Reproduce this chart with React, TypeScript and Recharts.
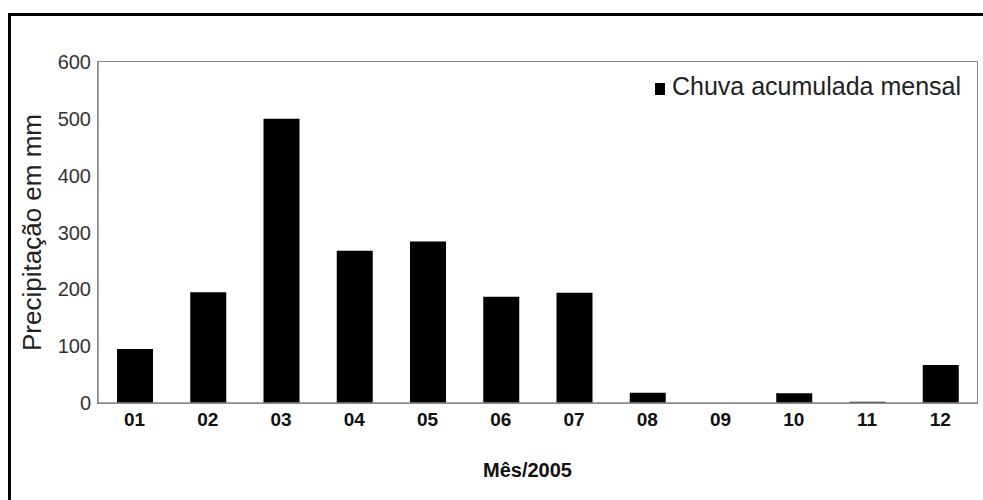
import React from "react";
import { BarChart, Bar, XAxis, YAxis, Label } from "recharts";

const months = ["01", "02", "03", "04", "05", "06", "07", "08", "09", "10", "11", "12"];
const rainfall = [95, 195, 500, 268, 284, 187, 194, 18, 0, 17, 2, 67];
const yTicks = [0, 100, 200, 300, 400, 500, 600];
const seriesName = "Chuva acumulada mensal";
const yTitle = "Precipitação em mm";
const xTitle = "Mês/2005";

const data = months.map((m, i) => ({ m, v: rainfall[i] }));

const FONT = "'Liberation Sans', Arial, sans-serif";
const AXIS = "#8a8a8a";

const YTitle = (props: any) => {
  const vb = props.viewBox || {};
  const x = vb.x + 32;
  const y = vb.y + vb.height / 2;
  return (
    <text
      x={x}
      y={y}
      transform={`rotate(-90 ${x} ${y})`}
      textAnchor="middle"
      dominantBaseline="central"
      fontFamily={FONT}
      fontSize={26}
      fill="#222"
    >
      {yTitle}
    </text>
  );
};

const XTitle = (props: any) => {
  const vb = props.viewBox || {};
  const x = vb.x + vb.width / 2 - 10;
  const y = vb.y + 74;
  return (
    <text x={x} y={y} textAnchor="middle" fontFamily={FONT} fontSize={20} fontWeight="bold" fill="#111">
      {xTitle}
    </text>
  );
};

export default function App() {
  return (
    <div style={{ position: "absolute", left: 0, top: 0, width: 983, height: 500, background: "#fff" }}>
      <div style={{ position: "absolute", left: 8, top: 13, width: 975, height: 3, background: "#000" }} />
      <div style={{ position: "absolute", left: 8, top: 13, width: 3, height: 487, background: "#000" }} />
      <BarChart
        width={983}
        height={500}
        data={data}
        margin={{ top: 62, right: 6, bottom: 0, left: 0 }}
        barCategoryGap="25%"
      >
        <XAxis
          dataKey="m"
          height={97}
          tickLine={false}
          tickSize={8}
          tickMargin={2}
          axisLine={{ stroke: AXIS, strokeWidth: 1.5 }}
          tick={{ fontFamily: FONT, fontSize: 19, fill: "#111", fontWeight: "bold" }}
          interval={0}
        >
          <Label content={<XTitle />} />
        </XAxis>
        <YAxis
          width={98}
          domain={[0, 600]}
          ticks={yTicks}
          tickLine={false}
          tickSize={5}
          tickMargin={2}
          axisLine={{ stroke: AXIS, strokeWidth: 1.5 }}
          tick={{ fontFamily: FONT, fontSize: 20, fill: "#333" }}
        >
          <Label content={<YTitle />} />
        </YAxis>
        <Bar dataKey="v" name={seriesName} fill="#000" barSize={36} isAnimationActive={false} />
      </BarChart>
      <div
        style={{
          position: "absolute",
          left: 97,
          top: 61,
          width: 881,
          height: 343,
          boxSizing: "border-box",
          border: `1.5px solid ${AXIS}`,
          pointerEvents: "none",
        }}
      />
      <div
        style={{
          position: "absolute",
          left: 655,
          top: 72,
          display: "flex",
          alignItems: "center",
          fontFamily: FONT,
          fontSize: 25,
          color: "#222",
          whiteSpace: "nowrap",
          lineHeight: "28px",
        }}
      >
        <span style={{ display: "inline-block", width: 10, height: 12, background: "#000", marginRight: 7, marginTop: 6 }} />
        <span>{seriesName}</span>
      </div>
    </div>
  );
}
